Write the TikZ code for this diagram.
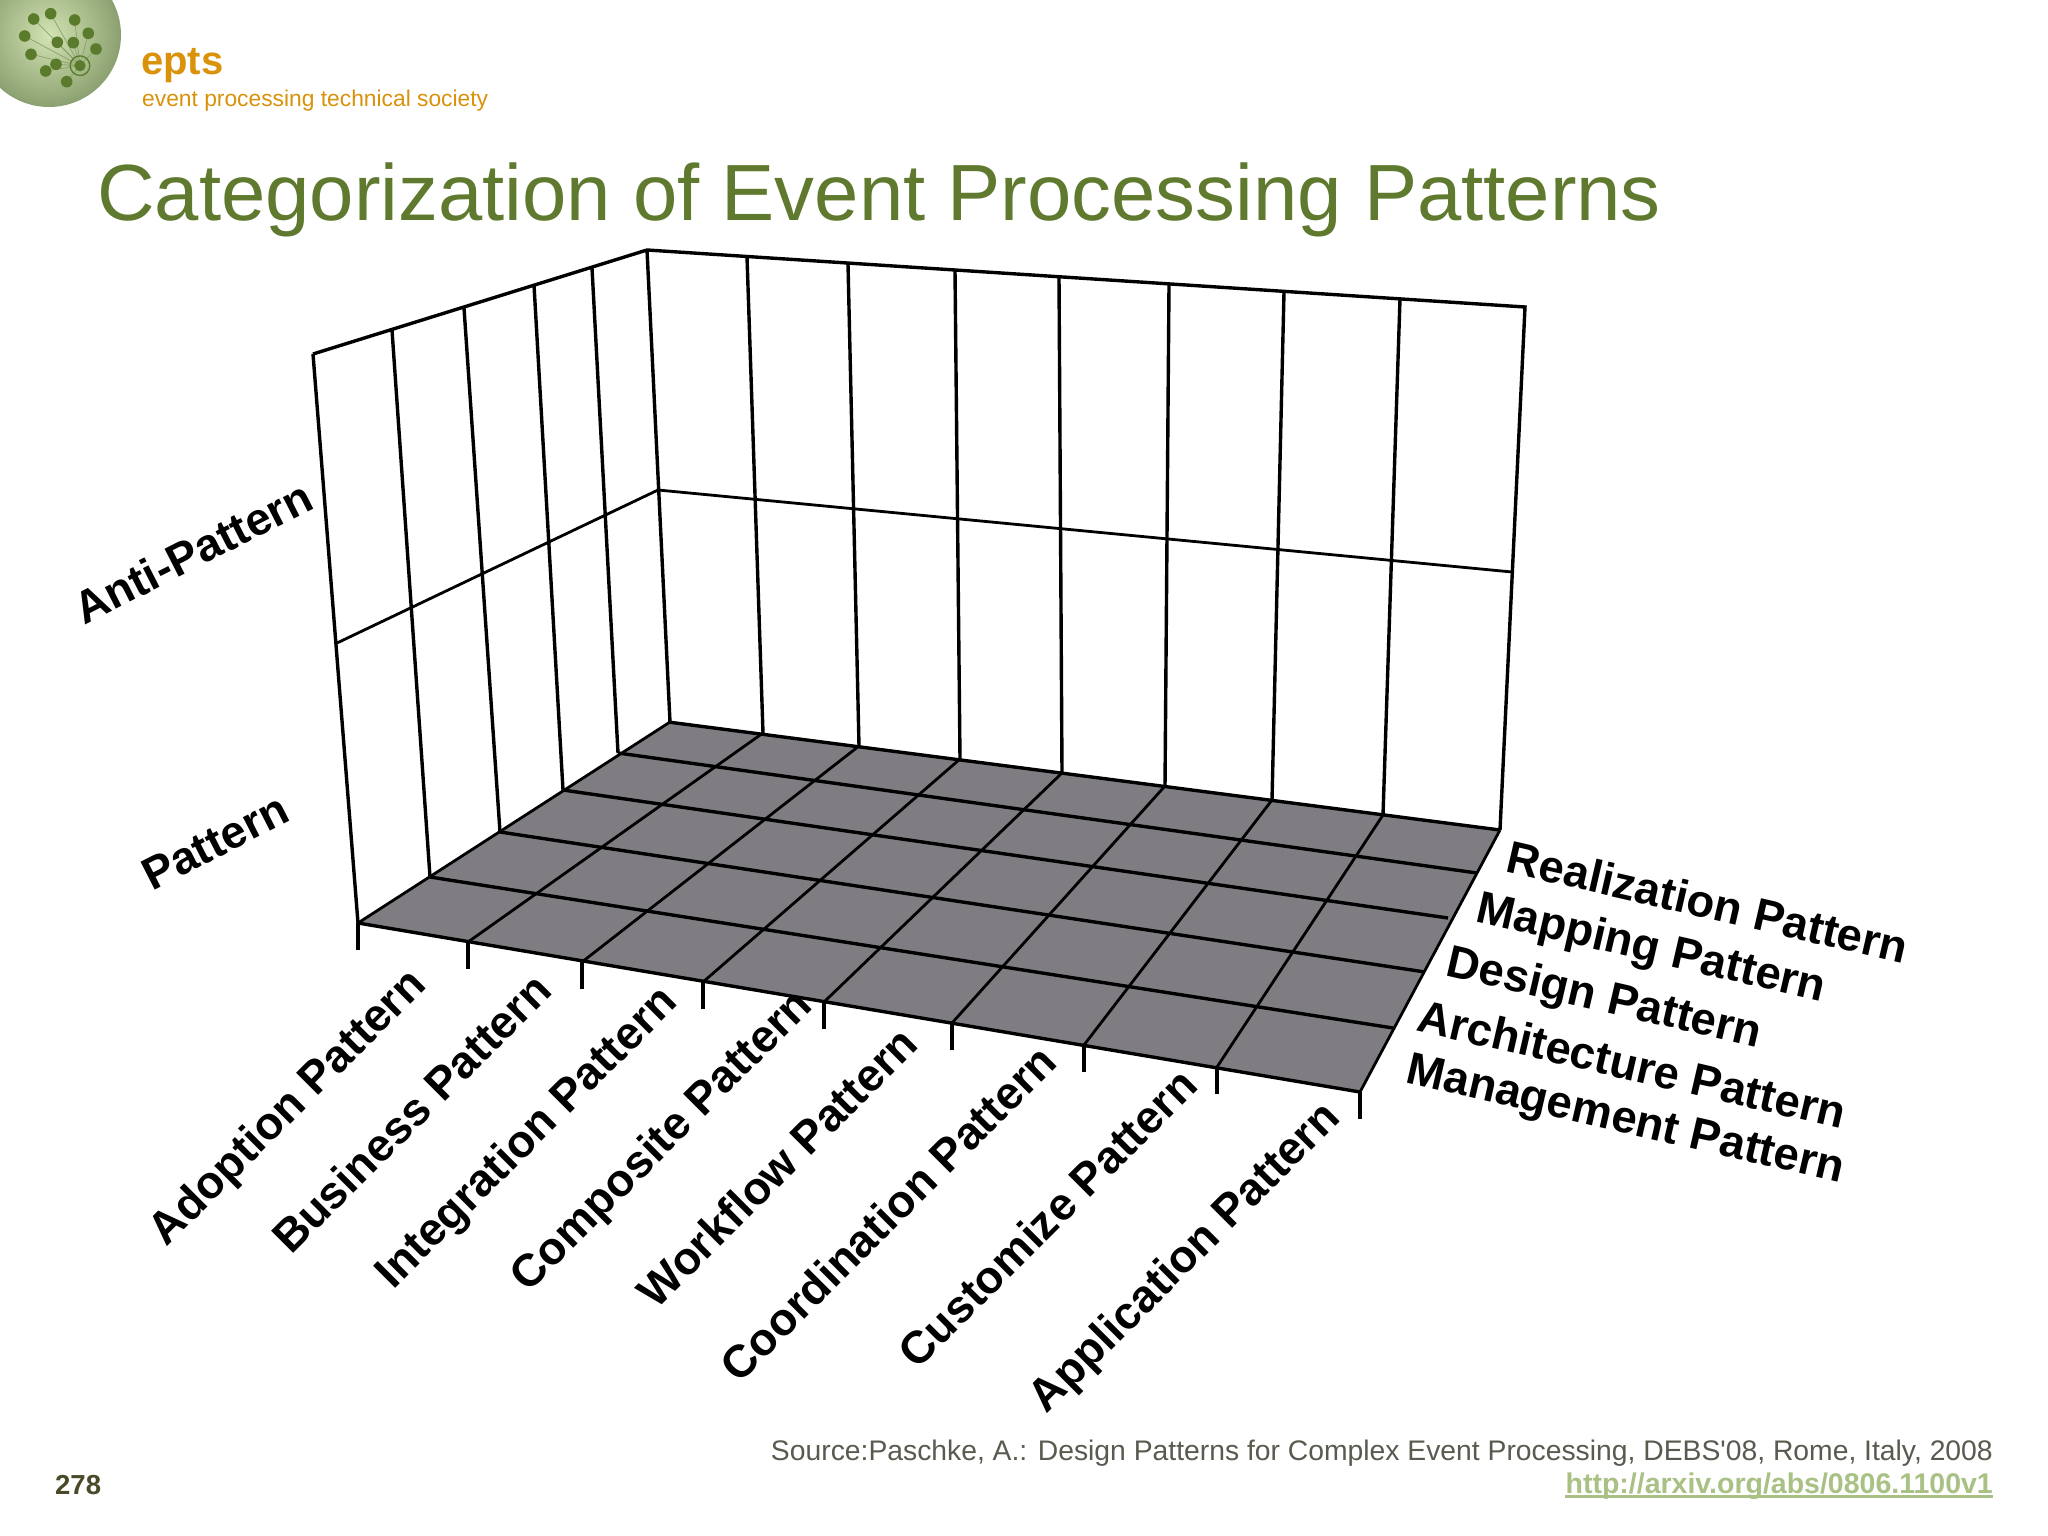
\documentclass[tikz,border=0pt]{standalone}
\usepackage{fontspec}
\setmainfont{Liberation Sans}
\newfontfamily\srcfont{Liberation Sans}
\definecolor{titlegreen}{HTML}{5F7A2E}
\definecolor{orangetxt}{HTML}{D9920A}
\definecolor{floorgrey}{HTML}{807D82}
\definecolor{dotgreen}{HTML}{5A7A2C}
\definecolor{sourcegrey}{HTML}{5A5A50}
\definecolor{linkgreen}{HTML}{A9C184}
\definecolor{pagenum}{HTML}{4A4A28}
\definecolor{logolight}{HTML}{D3E3B3}
\definecolor{logodark}{HTML}{8BA070}
\tikzset{
  gridline/.style={black,line width=3.4pt},
  thinline/.style={black,line width=2.8pt},
  axislabel/.style={font=\fontsize{45.5}{48}\bfseries\selectfont,text=black,inner sep=0pt},
  logodot/.style={fill=dotgreen,draw=none},
  logoline/.style={draw=dotgreen!70!white,line width=0.7pt},
}
\begin{document}
\begin{tikzpicture}[x=1pt,y=-1pt]
\useasboundingbox (0,0) rectangle (2048,1536);
\fill[white] (0,0) rectangle (2048,1536);
% logo
\begin{scope}
\clip (0,0) rectangle (300,200);
\shade[inner color=logolight,outer color=logodark,shading=radial] (49,35) circle[radius=72];
\coordinate (hub) at (80,65.7);
\foreach \x/\y in {33.7/19,50.7/13.7,74.7/20,88.3/33.3,96/49,57.3/42.3,73.3/42.7,24.7/36,31/54.3,45.7/71,56/64.3,66.7/81.7}{
  \draw[logoline] (\x,\y) -- (hub);
  \fill[logodot] (\x,\y) circle[radius=5.8];
}
\fill[logodot] (hub) circle[radius=5.6];
\draw[dotgreen,line width=1.3pt] (hub) circle[radius=9.8];
\end{scope}
\node[anchor=base west,inner sep=0pt,text=orangetxt,font=\fontsize{40}{42}\bfseries\selectfont] (epts) at (141,75) {epts};
\node[anchor=base west,inner sep=0pt,text=orangetxt,font=\fontsize{22.8}{26}\selectfont] (society) at (142,107) {event processing technical society};
\node[anchor=base west,inner sep=0pt,text=titlegreen,font=\fontsize{79.7}{84}\selectfont] (title) at (97,220) {Categorization of Event Processing Patterns};
% coordinates
\foreach \n/\x/\y in {0/358/923,1/430/877,2/500/832,3/563/790,4/618/753,5/668/722}{\coordinate (L\n) at (\x,\y);}
\foreach \n/\x/\y in {0/313/354,1/392/330,2/464/308,3/534/285,4/592/268,5/647/250}{\coordinate (LT\n) at (\x,\y);}
\foreach \n/\x/\y in {0/1500/830,1/1477/873,2/1448/918,3/1425/972,4/1393/1028,5/1360/1092}{\coordinate (R\n) at (\x,\y);}
\foreach \n/\x/\y in {0/358/923,1/468/942,2/582/962,3/703/982,4/824/1002,5/952/1023,6/1084/1045,7/1217/1067,8/1360/1092}{\coordinate (F\n) at (\x,\y);}
\foreach \n/\x/\y in {0/670/722,1/763/733,2/859/746,3/960/759,4/1062/773,5/1165/786,6/1272/800,7/1383/815,8/1500/830}{\coordinate (B\n) at (\x,\y);}
\foreach \n/\x/\y in {0/647/250,1/747/257,2/848/264,3/955/271,4/1059/278,5/1169/285,6/1284/292,7/1400/299,8/1525/307}{\coordinate (T\n) at (\x,\y);}
\coordinate (ML) at (337,643); \coordinate (MB) at (658,490); \coordinate (MR) at (1512,572);
% walls
\draw[gridline] (LT0) -- (LT5) -- (T8) -- (B8);
\foreach \n in {0,...,4}{\draw[gridline] (LT\n) -- (L\n);}
\foreach \n in {0,...,7}{\draw[gridline] (T\n) -- (B\n);}
\draw[thinline] (ML) -- (MB) -- (MR);
% floor
\fill[floorgrey] (F0) -- (F8) -- (B8) -- (B0) -- cycle;
\foreach \n in {0,...,8}{\draw[thinline] (F\n) -- (B\n);}
\foreach \n [evaluate=\n as \m using int(5-\n)] in {0,...,5}{\draw[gridline] (L\n) -- (R\m);}
\foreach \n in {0,...,8}{\draw[gridline] (F\n) -- ++(0,27);}
% labels
\node[axislabel,rotate=27] (anti) at (193,552) {Anti-Pattern};
\node[axislabel,rotate=27] (pat) at (215,842) {Pattern};
\node[axislabel,rotate=45] (a1) at (289,1109) {Adoption Pattern};
\node[axislabel,rotate=45] (a2) at (411,1113) {Business Pattern};
\node[axislabel,rotate=45] (a3) at (528,1139) {Integration Pattern};
\node[axislabel,rotate=45] (a4) at (663,1142) {Composite Pattern};
\node[axislabel,rotate=45] (a5) at (777,1167) {Workflow Pattern};
\node[axislabel,rotate=45] (a6) at (888,1213) {Coordination Pattern};
\node[axislabel,rotate=45] (a7) at (1047,1218) {Customize Pattern};
\node[axislabel,rotate=45] (a8) at (1186,1259) {Application Pattern};
\node[axislabel,rotate=-13] (r1) at (1708,902) {Realization Pattern};
\node[axislabel,rotate=-13] (r2) at (1651,950) {Mapping Pattern};
\node[axislabel,rotate=-13] (r3) at (1604,1000) {Design Pattern};
\node[axislabel,rotate=-13] (r4) at (1632,1064) {Architecture Pattern};
\node[axislabel,rotate=-13] (r5) at (1625,1122) {Management Pattern};
% footer
\node[anchor=base west,inner sep=0pt,text=pagenum,font=\fontsize{27.5}{30}\bfseries\selectfont] (page) at (55,1494) {278};
\node[anchor=base east,inner sep=0pt,text=sourcegrey,font=\fontsize{28.3}{32}\srcfont\selectfont] (src) at (1993,1460) {Source:Paschke, A.: Design Patterns for Complex Event Processing, DEBS'08, Rome, Italy, 2008};
\node[anchor=base east,inner sep=0pt,text=linkgreen,font=\fontsize{28.5}{32}\bfseries\selectfont] (link) at (1993,1493) {http://arxiv.org/abs/0806.1100v1};
\draw[linkgreen,line width=2.2pt] ([yshift=-3.5pt]link.base west) -- ([yshift=-3.5pt]link.base east);
\end{tikzpicture}
\end{document}
